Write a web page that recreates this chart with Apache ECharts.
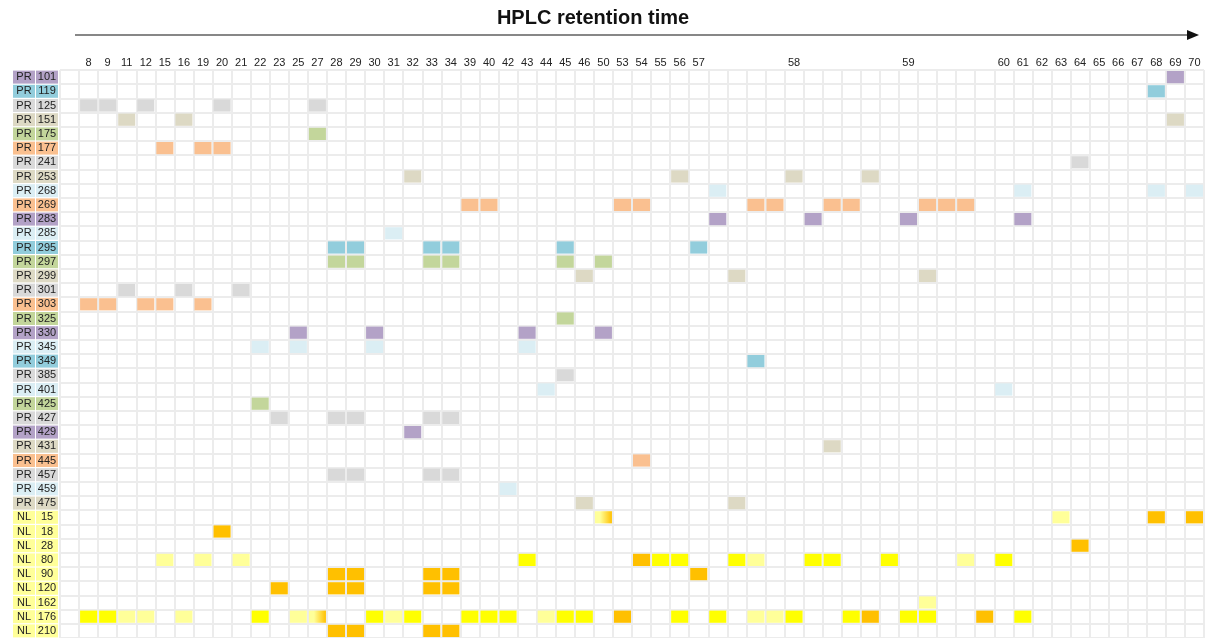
<!DOCTYPE html>
<html>
<head>
<meta charset="utf-8">
<script src="https://cdn.jsdelivr.net/npm/echarts@6/dist/echarts.min.js"></script>
<style>
html, body { margin: 0; padding: 0; background: #fff; }
#main { width: 1213px; height: 638px; }
</style>
</head>
<body>
<div id="main"></div>
<script>
// column headers (retention time), blanks are unlabeled fractions
var colLabels = ['', '8', '9', '11', '12', '15', '16', '19', '20', '21', '22', '23', '25', '27', '28', '29', '30', '31', '32', '33', '34',
    '39', '40', '42', '43', '44', '45', '46', '50', '53', '54', '55', '56', '57', '', '', '', '', '58', '', '', '', '', '', '59',
    '', '', '', '', '60', '61', '62', '63', '64', '65', '66', '67', '68', '69', '70'];

var rowGroup = ['PR', 'PR', 'PR', 'PR', 'PR', 'PR', 'PR', 'PR', 'PR', 'PR', 'PR', 'PR', 'PR', 'PR', 'PR', 'PR',
    'PR', 'PR', 'PR', 'PR', 'PR', 'PR', 'PR', 'PR', 'PR', 'PR', 'PR', 'PR', 'PR', 'PR', 'PR',
    'NL', 'NL', 'NL', 'NL', 'NL', 'NL', 'NL', 'NL', 'NL'];
var rowNum = ['101', '119', '125', '151', '175', '177', '241', '253', '268', '269', '283', '285', '295', '297', '299', '301',
    '303', '325', '330', '345', '349', '385', '401', '425', '427', '429', '431', '445', '457', '459', '475',
    '15', '18', '28', '80', '90', '120', '162', '176', '210'];
var rowTone = ['purple', 'aqua', 'gray', 'tan', 'olive', 'orange', 'gray', 'tan', 'ice', 'orange', 'purple', 'ice', 'aqua', 'olive', 'tan', 'gray',
    'orange', 'olive', 'purple', 'ice', 'aqua', 'gray', 'ice', 'olive', 'gray', 'purple', 'tan', 'orange', 'gray', 'ice', 'tan',
    'lemon', 'lemon', 'lemon', 'lemon', 'lemon', 'lemon', 'lemon', 'lemon', 'lemon'];

// PR rows: column indexes where the peptide was found
var prHits = [
    [58], [57], [1, 2, 4, 8, 13], [3, 6, 58], [13], [5, 7, 8], [53], [18, 32, 38, 42],
    [34, 50, 57, 59], [21, 22, 29, 30, 36, 37, 40, 41, 45, 46, 47], [34, 39, 44, 50], [17],
    [14, 15, 19, 20, 26, 33], [14, 15, 19, 20, 26, 28], [27, 35, 45], [3, 6, 9], [1, 2, 4, 5, 7],
    [26], [12, 16, 24, 28], [10, 12, 16, 24], [36], [26], [25, 49], [10], [11, 14, 15, 19, 20],
    [18], [40], [30], [14, 15, 19, 20], [23], [27, 35]
];

// NL rows: [column, level]  Y = strong, L = weak, O = major, G = mixed
var nlHits = [
    [[28, 'G'], [52, 'L'], [57, 'O'], [59, 'O']],
    [[8, 'O']],
    [[53, 'O']],
    [[5, 'L'], [7, 'L'], [9, 'L'], [24, 'Y'], [30, 'O'], [31, 'Y'], [32, 'Y'], [35, 'Y'], [36, 'L'], [39, 'Y'], [40, 'Y'], [43, 'Y'], [47, 'L'], [49, 'Y']],
    [[14, 'O'], [15, 'O'], [19, 'O'], [20, 'O'], [33, 'O']],
    [[11, 'O'], [14, 'O'], [15, 'O'], [19, 'O'], [20, 'O']],
    [[45, 'L']],
    [[1, 'Y'], [2, 'Y'], [3, 'L'], [4, 'L'], [6, 'L'], [10, 'Y'], [12, 'L'], [13, 'G'], [16, 'Y'], [17, 'L'], [18, 'Y'], [21, 'Y'], [22, 'Y'],
     [23, 'Y'], [25, 'L'], [26, 'Y'], [27, 'Y'], [29, 'O'], [32, 'Y'], [34, 'Y'], [36, 'L'], [37, 'L'], [38, 'Y'], [41, 'Y'], [42, 'O'],
     [44, 'Y'], [45, 'Y'], [48, 'O'], [50, 'Y']],
    [[14, 'O'], [15, 'O'], [19, 'O'], [20, 'O']]
];

var tones = {
    purple: '#b3a2c7', aqua: '#92cddc', gray: '#d9d9d9', tan: '#ddd9c4', olive: '#c3d69b',
    orange: '#fac090', ice: '#dbeef4', lemon: '#ffff99'
};
var nlColors = {
    Y: '#ffff00', L: '#ffff99', O: '#ffc000',
    G: new echarts.graphic.LinearGradient(0, 0, 1, 0, [
        { offset: 0, color: '#ffff99' }, { offset: 0.3, color: '#ffff99' }, { offset: 1, color: '#ffc000' }
    ])
};

var xCats = colLabels.map(function (l, i) { return 'c' + i; });
var yCats = rowNum.map(function (l, i) { return 'r' + i; });

var cells = [];
var cellFill = [];
prHits.forEach(function (cols, r) {
    cols.forEach(function (c) {
        cells.push([c, r]);
        cellFill.push(tones[rowTone[r]]);
    });
});
nlHits.forEach(function (hits, i) {
    var r = prHits.length + i;
    hits.forEach(function (h) {
        cells.push([h[0], r]);
        cellFill.push(nlColors[h[1]]);
    });
});

// rich styles for the two-part row labels
var labelFont = 'Liberation Sans, Arial, sans-serif';
var rich = { gap: { width: 1 } };
Object.keys(tones).forEach(function (k) {
    rich['p_' + k] = { backgroundColor: tones[k], width: 22, height: 13, lineHeight: 13, align: 'center', fontSize: 11, color: '#222', fontFamily: labelFont };
    rich['n_' + k] = { backgroundColor: tones[k], width: 22, height: 13, lineHeight: 13, align: 'center', fontSize: 11, color: '#222', fontFamily: labelFont };
});

var myChart = echarts.init(document.getElementById('main'));
myChart.setOption({
    animation: false,
    backgroundColor: '#fff',
    graphic: [{
        type: 'text', x: 593, y: 8,
        style: { text: 'HPLC retention time', font: 'bold 20px Liberation Sans, Arial, sans-serif', fill: '#111', align: 'center' }
    }, {
        type: 'line', shape: { x1: 75, y1: 35, x2: 1192, y2: 35 },
        style: { stroke: '#111', lineWidth: 1.2 }
    }, {
        type: 'polygon', shape: { points: [[1187, 30], [1199, 35], [1187, 40]] },
        style: { fill: '#111' }
    }],
    grid: { left: 60, right: 9, top: 70, height: 572 },
    xAxis: {
        type: 'category',
        position: 'top',
        data: xCats,
        axisLine: { show: false },
        axisTick: { show: false },
        axisLabel: {
            interval: 0, margin: 2, fontSize: 11, color: '#222', fontFamily: labelFont,
            formatter: function (v, idx) { return colLabels[idx]; }
        },
        splitLine: { show: true, interval: 0, lineStyle: { color: '#ececec', width: 2 } }
    },
    yAxis: {
        type: 'category',
        inverse: true,
        data: yCats,
        axisLine: { show: false },
        axisTick: { show: false },
        axisLabel: {
            interval: 0, margin: 2,
            formatter: function (v, idx) {
                var t = rowTone[idx];
                return '{p_' + t + '|' + rowGroup[idx] + '}{gap| }{n_' + t + '|' + rowNum[idx] + '}';
            },
            rich: rich
        },
        splitLine: { show: true, interval: 0, lineStyle: { color: '#ececec', width: 2 } }
    },
    series: [{
        type: 'custom',
        data: cells,
        encode: { x: 0, y: 1 },
        silent: true,
        renderItem: function (params, api) {
            var p = api.coord([api.value(0), api.value(1)]);
            var s = api.size([1, 1]);
            return {
                type: 'rect',
                shape: { x: p[0] - s[0] / 2 + 1, y: p[1] - s[1] / 2 + 1, width: s[0] - 2, height: s[1] - 2 },
                style: { fill: cellFill[params.dataIndex] }
            };
        }
    }]
});
</script>
</body>
</html>
